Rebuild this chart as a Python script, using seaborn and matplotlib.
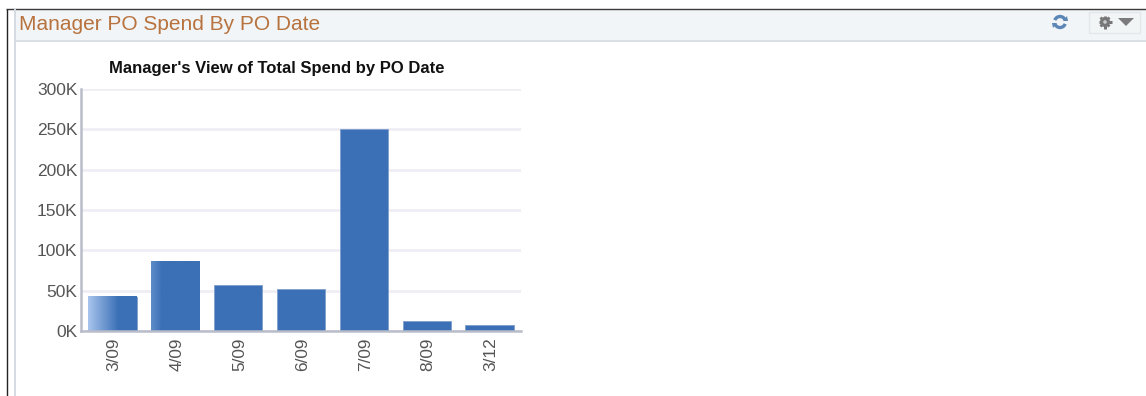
import matplotlib
matplotlib.use("Agg")
import matplotlib.pyplot as plt
import matplotlib.transforms as mtrans
import seaborn as sns
import pandas as pd
import numpy as np
from matplotlib.colors import to_rgb
from matplotlib.patches import Rectangle, Polygon, Circle, Arc

po_dates = ["3/09", "4/09", "5/09", "6/09", "7/09", "8/09", "3/12"]
spend = [42500, 86000, 57000, 52500, 250000, 13000, 7000]
y_ticks = [0, 50000, 100000, 150000, 200000, 250000, 300000]
y_tick_labels = ["0K", "50K", "100K", "150K", "200K", "250K", "300K"]
page_title = "Manager PO Spend By PO Date"
chart_title = "Manager's View of Total Spend by PO Date"

W, H = 1146, 396
sns.set_theme(style="white")
plt.rcParams["font.family"] = ["Liberation Sans", "DejaVu Sans"]

fig = plt.figure(figsize=(W / 100, H / 100), dpi=100, facecolor="white")

# page furniture in pixel coordinates
bg = fig.add_axes([0, 0, 1, 1], zorder=0)
bg.set_xlim(0, W)
bg.set_ylim(H, 0)
bg.axis("off")
bg.add_patch(Rectangle((15, 9), W - 15, 31, fc="#f1f5f7", ec="none"))
bg.plot([15, W], [40.5, 40.5], color="#d3dae1", lw=1.2)
bg.plot([6, W], [8.5, 8.5], color="#3a3a3a", lw=1.0, solid_capstyle="butt")
bg.plot([6.5, 6.5], [8.5, H], color="#222222", lw=1.0, solid_capstyle="butt")
bg.plot([14.5, 14.5], [9, H], color="#d5dbe3", lw=1.4)
bg.text(19, 24, page_title, fontsize=15.05, color="#b8723e", va="center", ha="left")

# refresh icon
icon = "#5c86b5"
bg.add_patch(Arc((1060, 22), 11, 11, theta1=200, theta2=340, color=icon, lw=2.4))
bg.add_patch(Arc((1060, 22), 11, 11, theta1=20, theta2=160, color=icon, lw=2.4))
bg.add_patch(Polygon([(1063, 21), (1068, 21), (1067, 16)], fc=icon, ec="none"))
bg.add_patch(Polygon([(1052, 23), (1057, 23), (1053, 28)], fc=icon, ec="none"))

# menu button
bg.add_patch(Rectangle((1089, 11.5), 51, 21, fc="#f2f5f6", ec="#e4e7ea", lw=1))
bg.add_patch(Circle((1105, 22), 5, fc="#777777", ec="none"))
bg.plot([1105, 1105], [15.5, 28.5], color="#777777", lw=2.2, solid_capstyle="butt")
bg.plot([1098.5, 1111.5], [22, 22], color="#777777", lw=2.2, solid_capstyle="butt")
bg.plot([1100.5, 1109.5], [17.5, 26.5], color="#777777", lw=2.0, solid_capstyle="butt")
bg.plot([1100.5, 1109.5], [26.5, 17.5], color="#777777", lw=2.0, solid_capstyle="butt")
bg.add_patch(Circle((1105, 22), 1.8, fc="#c9cbcc", ec="none", zorder=5))
bg.add_patch(Polygon([(1118, 18), (1134, 18), (1126, 26)], fc="#7b7b7b", ec="none"))

# chart
ax = fig.add_axes([81 / W, 1 - 331 / H, 440 / W, 242 / H], zorder=1)
ax.patch.set_alpha(0)
df = pd.DataFrame({"date": po_dates, "spend": spend})
sns.barplot(data=df, x="date", y="spend", color="#3b70b6", saturation=1,
            width=0.77, ax=ax, edgecolor="#7f9fcc", linewidth=0.6, zorder=3)
ax.set_xlim(-0.5, len(po_dates) - 0.5)
ax.set_ylim(0, 300000)
ax.set_xlabel("")
ax.set_ylabel("")
ax.set_yticks(y_ticks)
ax.set_yticklabels(y_tick_labels)
ax.grid(axis="y", color="#eeeef4", lw=2, zorder=0)
ax.set_axisbelow(True)
ax.tick_params(axis="y", length=0, pad=2.5, labelsize=12.5, labelcolor="#555555")
ax.tick_params(axis="x", length=0, pad=4.5, labelsize=12.4, labelcolor="#555555", labelrotation=90)
shift = mtrans.ScaledTranslation(1.5 / 100, 0, fig.dpi_scale_trans)
for lab in ax.get_xticklabels():
    lab.set_transform(lab.get_transform() + shift)
for s in ["top", "right"]:
    ax.spines[s].set_visible(False)
for s in ["left", "bottom"]:
    ax.spines[s].set_color("#b9bcc9")
    ax.spines[s].set_linewidth(1.8)
    ax.spines[s].set_zorder(5)

# highlight gradients on the first two bars, sized from the bars themselves
grads = [(0, "#a9c5ee", 0.62), (1, "#5f8cc8", 0.22)]
c1 = np.array(to_rgb("#3b70b6"))
for idx, start, frac in grads:
    p = ax.patches[idx]
    x0, w, h = p.get_x(), p.get_width(), p.get_height()
    t = np.clip(np.linspace(0, 1, 256) / frac, 0, 1)[None, :, None]
    c0 = np.array(to_rgb(start))
    img = c0[None, None, :] * (1 - t) + c1[None, None, :] * t
    ax.imshow(img, extent=(x0, x0 + w, 0, h), aspect="auto", zorder=3.5,
              interpolation="bilinear")
ax.set_xlim(-0.5, len(po_dates) - 0.5)
ax.set_ylim(0, 300000)

bg.text(277, 68, chart_title, fontsize=11.95, fontweight="bold", color="#111111",
        ha="center", va="center")

fig.savefig("out.png", dpi=100, facecolor="white")
